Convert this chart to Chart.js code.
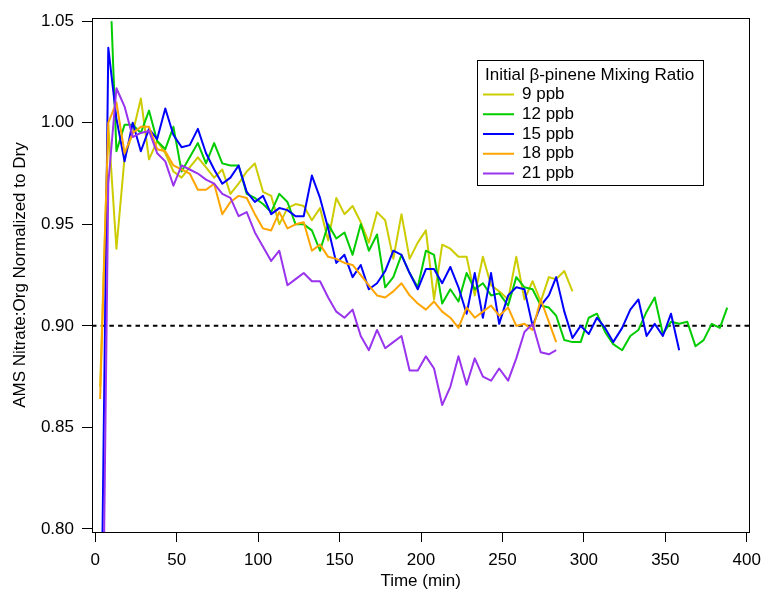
<!DOCTYPE html>
<html>
<head>
<meta charset="utf-8">
<script src="https://cdn.jsdelivr.net/npm/chart.js@4.4.1/dist/chart.umd.min.js"></script>
<style>
  body { margin: 0; background: #fff; }
  #wrap { width: 769px; height: 592px; }
</style>
</head>
<body>
<div id="wrap"><canvas id="chart" width="769" height="592"></canvas></div>
<script>
// Time since start of experiment (min)
const minutes = [3, 8, 10, 13, 18, 23, 28, 33, 38, 43,
  48, 53, 58, 63, 68, 73, 78, 83, 88, 93,
  98, 103, 108, 113, 118, 123, 128, 133, 138, 143,
  148, 153, 158, 163, 168, 173, 178, 183, 188, 193,
  198, 203, 208, 213, 218, 223, 228, 233, 238, 243,
  248, 253.5, 258.5, 263.5, 268.5, 273.5, 278.5, 283, 288, 293,
  298, 303, 308, 313, 318, 323.5, 328.5, 333.5, 338.5, 343.5,
  348.5, 353.5, 358.5, 363.5, 368.5, 373.5, 378.5, 383.5, 388];

// Nitrate:Org normalized to dry, one array per initial beta-pinene mixing ratio
const ppb9 = [0.870, 0.999, null, 0.938, 0.983, 0.995, 1.012, 0.982, 0.991, 0.985,
  0.976, 0.973, 0.978, 0.983, 0.978, 0.973, 0.977, 0.965, 0.970, 0.976,
  0.980, 0.966, 0.964, 0.950, 0.958, 0.960, 0.959, 0.952, 0.958, 0.942,
  0.963, 0.955, 0.959, 0.951, 0.941, 0.956, 0.952, 0.933, 0.955, 0.933,
  0.941, 0.947, 0.913, 0.940, 0.938, 0.934, 0.934, 0.915, 0.934, 0.920,
  0.917, 0.913, 0.934, 0.913, 0.922, 0.912, 0.924, 0.923, 0.927, 0.917,
  null, null, null, null, null, null, null, null, null, null,
  null, null, null, null, null, null, null, null, null];

const ppb12 = [null, null, 1.050, 0.986, 0.999, 0.999, 0.995, 1.006, 0.991, 0.987,
  0.998, 0.976, 0.983, 0.990, 0.980, 0.990, 0.980, 0.979, 0.979, 0.965,
  0.963, 0.960, 0.956, 0.965, 0.961, 0.950, 0.950, 0.947, 0.937, 0.950,
  0.943, 0.946, 0.935, 0.950, 0.937, 0.945, 0.919, 0.924, 0.935, 0.926,
  0.919, 0.937, 0.935, 0.911, 0.918, 0.912, 0.926, 0.918, 0.921, 0.915,
  0.916, 0.910, 0.924, 0.919, 0.918, 0.910, 0.909, 0.905, 0.893, 0.892,
  0.892, 0.904, 0.906, 0.897, 0.891, 0.888, 0.895, 0.898, 0.907, 0.914,
  0.896, 0.902, 0.901, 0.902, 0.890, 0.893, 0.901, 0.899, 0.909];

const ppb15 = [0.700, 1.037, null, 1.002, 0.981, 1.000, 0.986, 0.997, 0.992, 1.007,
  0.994, 0.988, 0.989, 0.997, 0.985, 0.977, 0.970, 0.973, 0.979, 0.966,
  0.961, 0.964, 0.955, 0.958, 0.957, 0.954, 0.954, 0.974, 0.963, 0.948,
  0.931, 0.935, 0.924, 0.930, 0.918, 0.921, 0.927, 0.937, 0.935, 0.926,
  0.918, 0.928, 0.928, 0.921, 0.929, 0.919, 0.906, 0.926, 0.904, 0.926,
  0.901, 0.915, 0.919, 0.918, 0.900, 0.910, 0.915, 0.924, 0.907, 0.894,
  0.900, 0.896, 0.904, 0.899, 0.892, 0.899, 0.908, 0.913, 0.895, 0.901,
  0.895, 0.906, 0.888, null, null, null, null, null, null];

const ppb18 = [0.864, 1.000, null, 1.010, 0.985, 0.995, 0.998, 0.998, 0.987, 0.986,
  0.979, 0.977, 0.975, 0.967, 0.967, 0.970, 0.955, 0.961, 0.964, 0.963,
  0.955, 0.948, 0.947, 0.956, 0.948, 0.950, 0.951, 0.937, 0.940, 0.934,
  0.933, 0.931, 0.930, 0.925, 0.920, 0.915, 0.914, 0.917, 0.921, 0.915,
  0.911, 0.908, 0.912, 0.907, 0.904, 0.899, 0.909, 0.904, 0.907, 0.910,
  0.905, 0.909, 0.900, 0.901, 0.898, 0.913, 0.902, 0.892, null, null,
  null, null, null, null, null, null, null, null, null, null,
  null, null, null, null, null, null, null, null, null];

const ppb21 = [0.630, 0.970, null, 1.017, 1.008, 0.993, 0.995, 0.996, 0.985, 0.981,
  0.969, 0.979, 0.977, 0.975, 0.972, 0.970, 0.965, 0.963, 0.954, 0.956,
  0.946, 0.939, 0.932, 0.937, 0.920, 0.923, 0.926, 0.922, 0.922, 0.914,
  0.907, 0.904, 0.908, 0.895, 0.888, 0.898, 0.889, 0.892, 0.895, 0.878,
  0.878, 0.885, 0.879, 0.861, 0.870, 0.885, 0.871, 0.884, 0.875, 0.873,
  0.879, 0.873, 0.884, 0.897, 0.901, 0.887, 0.886, 0.888, null, null,
  null, null, null, null, null, null, null, null, null, null,
  null, null, null, null, null, null, null, null, null];

const seriesNames = ["9 ppb", "12 ppb", "15 ppb", "18 ppb", "21 ppb"];
const seriesColors = ["#cccc00", "#00cc00", "#0000ff", "#ffa500", "#9933ee"];
const legendTitle = "Initial \u03b2-pinene Mixing Ratio";

const xTicks = [0, 50, 100, 150, 200, 250, 300, 350, 400];
const yTicks = [0.80, 0.85, 0.90, 0.95, 1.00, 1.05];
const refLevel = 0.90;

const FONT = "'Liberation Sans', Arial, Helvetica, sans-serif";
Chart.defaults.font.family = FONT;
Chart.defaults.font.size = 17;
Chart.defaults.color = "#000";

const allSeries = [ppb9, ppb12, ppb15, ppb18, ppb21];

const datasets = allSeries.map((vals, i) => ({
  label: seriesNames[i],
  data: minutes.map((m, k) => ({ x: m, y: vals[k] })).filter(p => p.y !== null),
  borderColor: seriesColors[i],
  backgroundColor: seriesColors[i],
  borderWidth: 2,
  pointRadius: 0,
  tension: 0,
  fill: false,
  borderJoinStyle: "round",
  order: allSeries.length - i,
  clip: 1,
}));

// dashed reference line at 0.90 and the plot frame
const refAndFrame = {
  id: "refAndFrame",
  beforeDatasetsDraw(chart) {
    const { ctx, chartArea: a, scales } = chart;
    const py = scales.y.getPixelForValue(refLevel);
    ctx.save();
    ctx.strokeStyle = "#000";
    ctx.lineWidth = 2;
    ctx.setLineDash([4.5, 4.2]);
    ctx.beginPath();
    ctx.moveTo(a.left, py);
    ctx.lineTo(a.right, py);
    ctx.stroke();
    ctx.restore();
  },
  afterDatasetsDraw(chart) {
    const { ctx, chartArea: a } = chart;
    ctx.save();
    ctx.strokeStyle = "#000";
    ctx.lineWidth = 1;
    ctx.strokeRect(Math.round(a.left) + 0.5, Math.round(a.top) + 0.5,
      Math.round(a.right - a.left), Math.round(a.bottom - a.top));
    ctx.restore();
  },
};

// boxed legend with title, top right of the plot
const boxLegend = {
  id: "boxLegend",
  afterDraw(chart) {
    const { ctx } = chart;
    ctx.save();
    ctx.fillStyle = "#fff";
    ctx.fillRect(477.5, 60.5, 226, 125);
    ctx.strokeStyle = "#000";
    ctx.lineWidth = 1;
    ctx.strokeRect(477.5, 60.5, 226, 125);
    ctx.font = "17px " + FONT;
    ctx.fillStyle = "#000";
    ctx.textBaseline = "middle";
    ctx.textAlign = "left";
    ctx.fillText(legendTitle, 485, 75);
    seriesNames.forEach((name, i) => {
      const yy = 94.5 + i * 19.75;
      ctx.strokeStyle = seriesColors[i];
      ctx.lineWidth = 2;
      ctx.beginPath();
      ctx.moveTo(483, yy);
      ctx.lineTo(514, yy);
      ctx.stroke();
      ctx.fillStyle = "#000";
      ctx.fillText(name, 522, yy);
    });
    ctx.restore();
  },
};

new Chart(document.getElementById("chart"), {
  type: "line",
  data: { datasets },
  options: {
    responsive: false,
    animation: false,
    devicePixelRatio: 1,
    events: [],
    layout: { padding: { left: 0, top: 15, right: 15, bottom: 0 } },
    plugins: {
      legend: { display: false },
      tooltip: { enabled: false },
    },
    scales: {
      x: {
        type: "linear",
        min: -2,
        max: 401.6,
        afterBuildTicks: axis => { axis.ticks = xTicks.map(v => ({ value: v })); },
        afterFit: scale => { scale.height = 60; },
        ticks: { autoSkip: false, maxRotation: 0, padding: 8, font: { size: 17 } },
        grid: { display: true, drawOnChartArea: false, drawTicks: true, tickLength: 10, color: "#000", lineWidth: 1 },
        border: { display: true, color: "#000", width: 1 },
        title: { display: true, text: "Time (min)", font: { size: 17 }, padding: { top: 0, bottom: 0 } },
      },
      y: {
        type: "linear",
        min: 0.7985,
        max: 1.0515,
        afterBuildTicks: axis => { axis.ticks = yTicks.map(v => ({ value: v })); },
        afterFit: scale => { scale.width = 92; },
        ticks: { autoSkip: false, padding: 8, font: { size: 17 }, callback: v => Number(v).toFixed(2) },
        grid: { display: true, drawOnChartArea: false, drawTicks: true, tickLength: 10, color: "#000", lineWidth: 1 },
        border: { display: true, color: "#000", width: 1 },
        title: { display: true, text: "AMS Nitrate:Org Normalized to Dry", font: { size: 17 }, padding: { top: 10, bottom: 0 } },
      },
    },
  },
  plugins: [refAndFrame, boxLegend],
});
</script>
</body>
</html>
